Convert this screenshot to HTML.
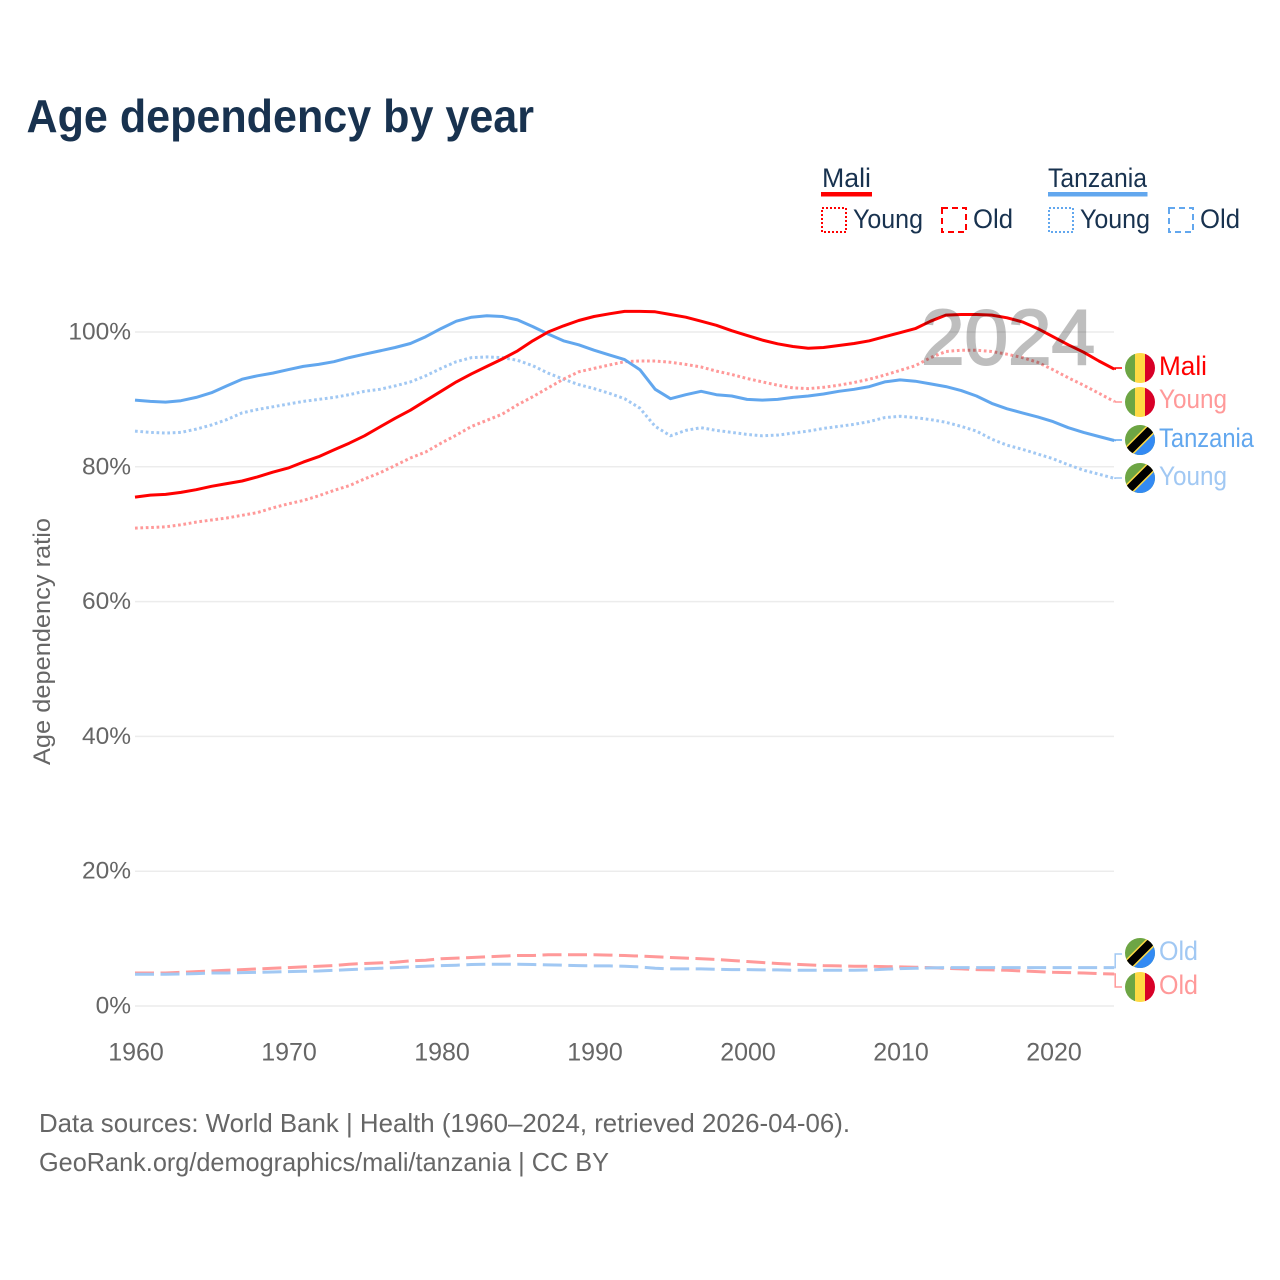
<!DOCTYPE html>
<html lang="en">
<head>
<meta charset="utf-8">
<title>Age dependency by year</title>
<style>
html,body{margin:0;padding:0;background:#fff;}
svg{display:block;font-family:"Liberation Sans",sans-serif;}
</style>
</head>
<body>
<svg id="chart" xmlns="http://www.w3.org/2000/svg" width="1280" height="1280" viewBox="0 0 1280 1280">
  <rect width="1280" height="1280" fill="#fff"/>
  <text x="26.5" y="132" font-size="46" font-weight="700" fill="#18324f" textLength="507.5" lengthAdjust="spacingAndGlyphs">Age dependency by year</text>

  <g>
    <text x="822" y="187" font-size="26.5" fill="#18324f" textLength="49" lengthAdjust="spacingAndGlyphs">Mali</text>
    <rect x="821" y="192" width="51" height="4.5" fill="#ff0000"/>
    <rect x="822" y="208" width="24" height="24" fill="none" stroke="#ff0000" stroke-width="2" stroke-dasharray="2 2"/>
    <text x="853" y="228" font-size="26.5" fill="#18324f" textLength="70" lengthAdjust="spacingAndGlyphs">Young</text>
    <rect x="942" y="208" width="24" height="24" fill="none" stroke="#ff0000" stroke-width="2" stroke-dasharray="6 4"/>
    <text x="973" y="228" font-size="26.5" fill="#18324f" textLength="40" lengthAdjust="spacingAndGlyphs">Old</text>
    <text x="1048" y="187" font-size="26.5" fill="#18324f" textLength="99" lengthAdjust="spacingAndGlyphs">Tanzania</text>
    <rect x="1048" y="192" width="99.5" height="4.5" fill="#62a7ee"/>
    <rect x="1049" y="208" width="24" height="24" fill="none" stroke="#62a7ee" stroke-width="2" stroke-dasharray="2 2"/>
    <text x="1080" y="228" font-size="26.5" fill="#18324f" textLength="70" lengthAdjust="spacingAndGlyphs">Young</text>
    <rect x="1169" y="208" width="24" height="24" fill="none" stroke="#62a7ee" stroke-width="2" stroke-dasharray="6 4"/>
    <text x="1200" y="228" font-size="26.5" fill="#18324f" textLength="40" lengthAdjust="spacingAndGlyphs">Old</text>
  </g>

  <g id="grid"></g>
  <g id="yticks"></g>
  <g id="xticks"></g>
  <text transform="translate(50,765) rotate(-90)" font-size="24" fill="#666" textLength="247" lengthAdjust="spacingAndGlyphs">Age dependency ratio</text>

  <g id="series"></g>

  <text x="921" y="364" font-size="78" fill="#000" stroke="#000" stroke-width="2" opacity="0.25" textLength="174" lengthAdjust="spacingAndGlyphs">2024</text>

  <defs>
    <clipPath id="flagClipA"><circle cx="1140" cy="368" r="15"/></clipPath>
    <clipPath id="flagClipB"><circle cx="1140" cy="402" r="15"/></clipPath>
    <clipPath id="flagClipC"><circle cx="1140" cy="440" r="15"/></clipPath>
    <clipPath id="flagClipD"><circle cx="1140" cy="478" r="15"/></clipPath>
    <clipPath id="flagClipE"><circle cx="1140" cy="953" r="15"/></clipPath>
    <clipPath id="flagClipF"><circle cx="1140" cy="987" r="15"/></clipPath>
    <g id="maliFlag">
      <rect x="-15" y="-15" width="10" height="30" fill="#6da544"/>
      <rect x="-5" y="-15" width="10" height="30" fill="#ffda44"/>
      <rect x="5" y="-15" width="10" height="30" fill="#d80027"/>
    </g>
    <g id="tanzaniaFlag">
      <rect x="-15" y="-15" width="30" height="30" fill="#6da544"/>
      <polygon points="15,-15 15,15 -15,15" fill="#338af3"/>
      <line x1="-15" y1="15" x2="15" y2="-15" stroke="#ffda44" stroke-width="11"/>
      <line x1="-15" y1="15" x2="15" y2="-15" stroke="#000" stroke-width="8"/>
    </g>
  </defs>

  <g>
    <g clip-path="url(#flagClipA)"><use href="#maliFlag" x="1140" y="368"/></g>
    <text x="1159" y="375" font-size="26.5" fill="#ff0000" textLength="48" lengthAdjust="spacingAndGlyphs">Mali</text>
    <g clip-path="url(#flagClipB)"><use href="#maliFlag" x="1140" y="402"/></g>
    <text x="1159" y="408" font-size="26.5" fill="#ff9999" textLength="68" lengthAdjust="spacingAndGlyphs">Young</text>
    <g clip-path="url(#flagClipC)"><use href="#tanzaniaFlag" x="1140" y="440"/></g>
    <text x="1159" y="447" font-size="26.5" fill="#62a7ee" textLength="95" lengthAdjust="spacingAndGlyphs">Tanzania</text>
    <g clip-path="url(#flagClipD)"><use href="#tanzaniaFlag" x="1140" y="478"/></g>
    <text x="1159" y="485" font-size="26.5" fill="#a1c8f3" textLength="68" lengthAdjust="spacingAndGlyphs">Young</text>
    <g clip-path="url(#flagClipE)"><use href="#tanzaniaFlag" x="1140" y="953"/></g>
    <text x="1159" y="960" font-size="26.5" fill="#a1c8f3" textLength="39" lengthAdjust="spacingAndGlyphs">Old</text>
    <g clip-path="url(#flagClipF)"><use href="#maliFlag" x="1140" y="987"/></g>
    <text x="1159" y="994" font-size="26.5" fill="#ff9999" textLength="39" lengthAdjust="spacingAndGlyphs">Old</text>
  </g>

  <text x="39" y="1132" font-size="26" fill="#666" textLength="811" lengthAdjust="spacingAndGlyphs">Data sources: World Bank | Health (1960–2024, retrieved 2026-04-06).</text>
  <text x="39" y="1171" font-size="26" fill="#666" textLength="570" lengthAdjust="spacingAndGlyphs">GeoRank.org/demographics/mali/tanzania | CC BY</text>
</svg>

<script>
const startYear = 1960;
const xTickLabels = [1960, 1970, 1980, 1990, 2000, 2010, 2020];
const yTickLabels = [0, 20, 40, 60, 80, 100];

const maliTotal = [
  75.5,75.8,75.9,76.2,76.6,
  77.1,77.5,77.9,78.5,79.2,
  79.8,80.7,81.5,82.5,83.5,
  84.6,85.9,87.2,88.4,89.8,
  91.2,92.6,93.8,94.9,96.0,
  97.2,98.7,100.0,100.9,101.7,
  102.3,102.7,103.05,103.05,103.0,
  102.6,102.2,101.6,101.0,100.2,
  99.5,98.8,98.25,97.85,97.6,
  97.7,98.0,98.3,98.7,99.3,
  99.9,100.5,101.6,102.5,102.6,
  102.6,102.5,102.1,101.5,100.5,
  99.3,98.1,97.0,95.7,94.5
];
const maliYoung = [
  70.9,71.0,71.1,71.4,71.8,
  72.1,72.4,72.8,73.2,73.9,
  74.5,75.0,75.7,76.5,77.2,
  78.2,79.1,80.2,81.3,82.2,
  83.5,84.7,86.0,86.9,87.8,
  89.2,90.4,91.7,93.0,94.1,
  94.6,95.1,95.6,95.7,95.7,
  95.5,95.2,94.8,94.2,93.7,
  93.1,92.6,92.1,91.7,91.6,
  91.8,92.1,92.5,93.0,93.6,
  94.3,95.0,96.2,97.1,97.3,
  97.3,97.1,96.7,96.2,95.5,
  94.4,93.2,92.1,90.9,89.7
];
const maliOld = [
  4.9,4.9,4.9,5.0,5.1,
  5.2,5.3,5.4,5.5,5.6,
  5.7,5.8,5.9,6.0,6.2,
  6.3,6.4,6.5,6.7,6.8,
  7.0,7.1,7.2,7.3,7.4,
  7.5,7.5,7.6,7.6,7.6,
  7.6,7.55,7.5,7.4,7.3,
  7.2,7.1,7.0,6.9,6.75,
  6.6,6.45,6.3,6.2,6.1,
  6.0,5.95,5.9,5.9,5.85,
  5.8,5.75,5.7,5.6,5.5,
  5.4,5.35,5.3,5.2,5.1,
  5.0,4.95,4.9,4.8,4.75
];
const tanzaniaTotal = [
  89.9,89.7,89.6,89.8,90.3,
  91.0,92.0,93.0,93.5,93.9,
  94.4,94.9,95.2,95.6,96.2,
  96.7,97.2,97.7,98.3,99.3,
  100.5,101.6,102.2,102.4,102.3,
  101.8,100.8,99.7,98.7,98.1,
  97.3,96.6,95.9,94.4,91.5,
  90.1,90.7,91.2,90.7,90.5,
  90.0,89.9,90.0,90.3,90.5,
  90.8,91.2,91.5,91.9,92.6,
  92.9,92.7,92.3,91.9,91.3,
  90.5,89.4,88.6,88.0,87.4,
  86.7,85.8,85.1,84.5,83.9
];
const tanzaniaYoung = [
  85.3,85.1,85.0,85.1,85.6,
  86.2,87.0,88.0,88.5,88.9,
  89.3,89.7,90.0,90.3,90.7,
  91.2,91.5,92.0,92.6,93.5,
  94.6,95.6,96.2,96.3,96.2,
  95.8,95.0,93.9,93.0,92.2,
  91.6,90.9,90.1,88.7,86.0,
  84.6,85.4,85.8,85.4,85.1,
  84.8,84.6,84.7,85.0,85.3,
  85.7,86.0,86.3,86.7,87.3,
  87.5,87.3,87.0,86.6,86.0,
  85.3,84.1,83.2,82.6,81.9,
  81.2,80.3,79.5,78.9,78.3
];
const tanzaniaOld = [
  4.7,4.7,4.7,4.75,4.8,
  4.9,4.9,4.95,5.0,5.05,
  5.1,5.15,5.2,5.3,5.4,
  5.5,5.6,5.7,5.8,5.9,
  6.0,6.05,6.15,6.2,6.2,
  6.2,6.15,6.1,6.05,6.0,
  5.95,5.95,5.9,5.8,5.6,
  5.5,5.5,5.5,5.45,5.4,
  5.4,5.35,5.35,5.3,5.3,
  5.3,5.3,5.3,5.35,5.45,
  5.55,5.6,5.65,5.7,5.7,
  5.7,5.7,5.7,5.7,5.7,
  5.7,5.7,5.7,5.7,5.7
];

const NS = 'http://www.w3.org/2000/svg';
function xScale(year) { return 135 + (year - 1960) * 15.3; }
function yScale(value) { return 1006 - value * 6.74; }
function mk(tag, attrs, parent) {
  const el = document.createElementNS(NS, tag);
  for (const k in attrs) el.setAttribute(k, attrs[k]);
  parent.appendChild(el);
  return el;
}

const gridGroup = document.getElementById('grid');
const yGroup = document.getElementById('yticks');
const xGroup = document.getElementById('xticks');
const seriesGroup = document.getElementById('series');

yTickLabels.forEach(function (v) {
  const line = mk('line', {x1: 135, x2: 1114, y1: yScale(v), y2: yScale(v), stroke: '#ececec', 'stroke-width': 1.5}, gridGroup);
  
  
  const label = mk('text', {x: 131, y: yScale(v) + 7.5, 'text-anchor': 'end', 'font-size': 24.5, fill: '#666'}, yGroup);
  
  
  label.textContent = v + '%';
});

xTickLabels.forEach(function (y) {
  const label = mk('text', {x: xScale(y) + 1, y: 1060.5, 'text-anchor': 'middle', 'font-size': 25, fill: '#666'}, xGroup);
  
  
  label.textContent = y;
});

function drawSeries(name, values, color, width, dash, connectorTo) {
  const pts = values.map(function (v, i) { return xScale(startYear + i).toFixed(1) + ',' + yScale(v).toFixed(1); });
  const attrs = {points: pts.join(' '), fill: 'none', stroke: color, 'stroke-width': width, 'stroke-linejoin': 'round'};
  if (dash) attrs['stroke-dasharray'] = dash;
  const line = mk('polyline', attrs, seriesGroup);
  
  
  const endX = xScale(startYear + values.length - 1);
  const endY = yScale(values[values.length - 1]);
  const conn = mk('polyline', {points: endX + ',' + endY + ' ' + (endX + 1) + ',' + endY + ' ' + (endX + 1) + ',' + connectorTo + ' 1122,' + connectorTo, fill: 'none', stroke: color, 'stroke-width': 1.5}, seriesGroup);
  
  
}

drawSeries('line-mali-old', maliOld, '#ff9999', 3, '19 6.5', 987);
drawSeries('line-tanzania-old', tanzaniaOld, '#a1c8f3', 3, '19 6.5', 954);
drawSeries('line-tanzania-young', tanzaniaYoung, '#a1c8f3', 3, '2.7 2.7', 478);
drawSeries('line-mali-young', maliYoung, '#ff9999', 3, '2.7 2.7', 402);
drawSeries('line-tanzania-total', tanzaniaTotal, '#62a7ee', 3, null, 440);
drawSeries('line-mali-total', maliTotal, '#ff0000', 3, null, 368);
</script>
</body>
</html>
